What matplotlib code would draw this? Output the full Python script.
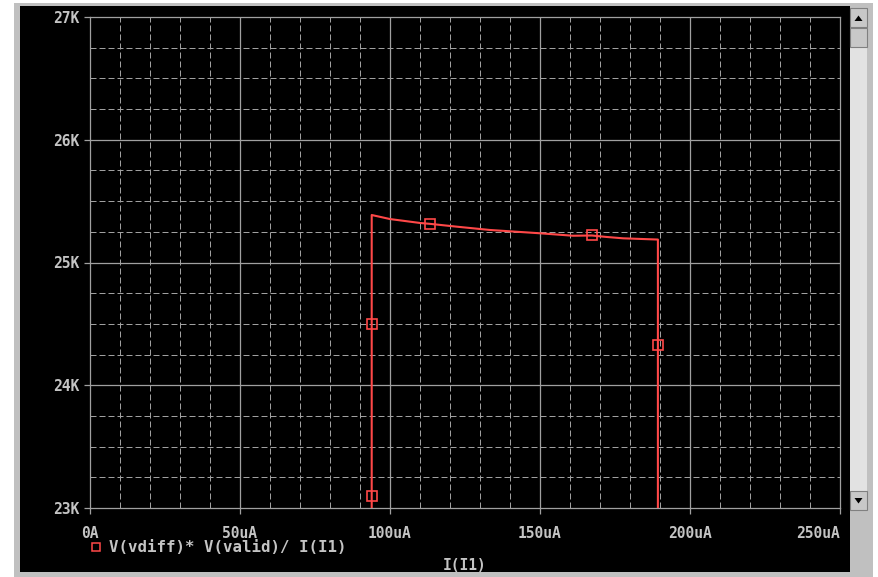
import matplotlib
matplotlib.use("Agg")
import matplotlib.pyplot as plt
from matplotlib.patches import Rectangle, Polygon

# data (x in uA, y in kOhm)
i_ua = [93.9, 93.9, 93.9, 93.9, 100.0, 110.0, 113.3, 122.2, 133.3, 150.0,
        161.0, 167.3, 172.2, 177.7, 189.3, 189.3, 189.3]
r_k = [22.9, 23.1, 24.5, 25.387, 25.354, 25.322, 25.315, 25.292, 25.265, 25.238,
       25.218, 25.22, 25.208, 25.197, 25.187, 24.33, 22.9]
marker_idx = [1, 2, 6, 11, 15]

x_ticks = [0, 50, 100, 150, 200, 250]
x_labels = ["0A", "50uA", "100uA", "150uA", "200uA", "250uA"]
y_ticks = [23, 24, 25, 26, 27]
y_labels = ["23K", "24K", "25K", "26K", "27K"]
trace_name = "V(vdiff)* V(valid)/ I(I1)"
x_title = "I(I1)"

W, H = 879, 577
FG = "#c4c4c4"
GRID = "#a0a0a0"
RED = "#ff4848"
FONT = dict(family="DejaVu Sans Mono", weight="bold", size=10.5, color=FG)

fig = plt.figure(figsize=(W / 100, H / 100), dpi=100, facecolor="white")

# window frame, black panel and scrollbar in pixel coords
bg = fig.add_axes([0, 0, 1, 1], zorder=0)
bg.set_xlim(0, W)
bg.set_ylim(H, 0)
bg.axis("off")
bg.add_patch(Rectangle((14, 3), 859, 574, facecolor="#c0c0c0", edgecolor="none"))
bg.add_patch(Rectangle((20, 6), 830, 566, facecolor="black", edgecolor="none"))
bg.add_patch(Rectangle((850, 6), 18, 566, facecolor="#c0c0c0", edgecolor="none"))
bg.add_patch(Rectangle((850, 46), 17, 445, facecolor="#e2e2e2", edgecolor="none",
                       hatch="....", linewidth=0))
for y0 in (8, 28, 491):
    bg.add_patch(Rectangle((850, y0), 17, 19, facecolor="#c8c8c8",
                           edgecolor="#808080", linewidth=0.8))
bg.add_patch(Polygon([(854.5, 21), (862.5, 21), (858.5, 15.5)], closed=True,
                     facecolor="black", edgecolor="none"))
bg.add_patch(Polygon([(854.5, 498), (862.5, 498), (858.5, 503.5)], closed=True,
                     facecolor="black", edgecolor="none"))

# plot area: x 90..840 px, y 17..508 px
ax = fig.add_axes([90 / W, 1 - 508 / H, 750 / W, 491 / H], zorder=1)
ax.set_facecolor("black")
ax.set_xlim(0, 250)
ax.set_ylim(23, 27)

for x in range(10, 250, 10):
    if x % 50:
        ax.axvline(x, color=GRID, lw=0.72, dashes=(6, 3), zorder=1)
for k in range(1, 16):
    y = 23 + k * 0.25
    if k % 4:
        ax.axhline(y, color=GRID, lw=0.72, dashes=(6, 3), zorder=1)
for x in x_ticks[1:-1]:
    ax.axvline(x, color=GRID, lw=0.9, zorder=1)
for y in y_ticks[1:-1]:
    ax.axhline(y, color=GRID, lw=0.9, zorder=1)

for s in ax.spines.values():
    s.set_color(GRID)
    s.set_linewidth(0.9)

ax.set_xticks(x_ticks)
ax.set_xticklabels(x_labels, fontdict=FONT)
ax.get_xticklabels()[-1].set_ha("right")
ax.set_yticks(y_ticks)
ax.set_yticklabels(y_labels, fontdict=FONT)
ax.tick_params(axis="both", colors=GRID, length=4, width=0.9, labelcolor=FG)
ax.tick_params(axis="x", pad=9)
ax.tick_params(axis="y", pad=4)

ax.plot(i_ua, r_k, color=RED, lw=1.5, marker="s", markevery=marker_idx,
        markersize=6.5, markerfacecolor="none", markeredgecolor=RED,
        markeredgewidth=1.2, zorder=3, clip_on=True)

# legend entry and axis title
bg.plot([96.5], [547], marker="s", markersize=6, markerfacecolor="none",
        markeredgecolor=RED, markeredgewidth=1.1, linestyle="none")
bg.text(109, 547, trace_name, ha="left", va="center",
        **{**FONT, "size": 11.3})
bg.text(465, 565, x_title, ha="center", va="center", **FONT)

fig.savefig("out.png", dpi=100, facecolor="white")
